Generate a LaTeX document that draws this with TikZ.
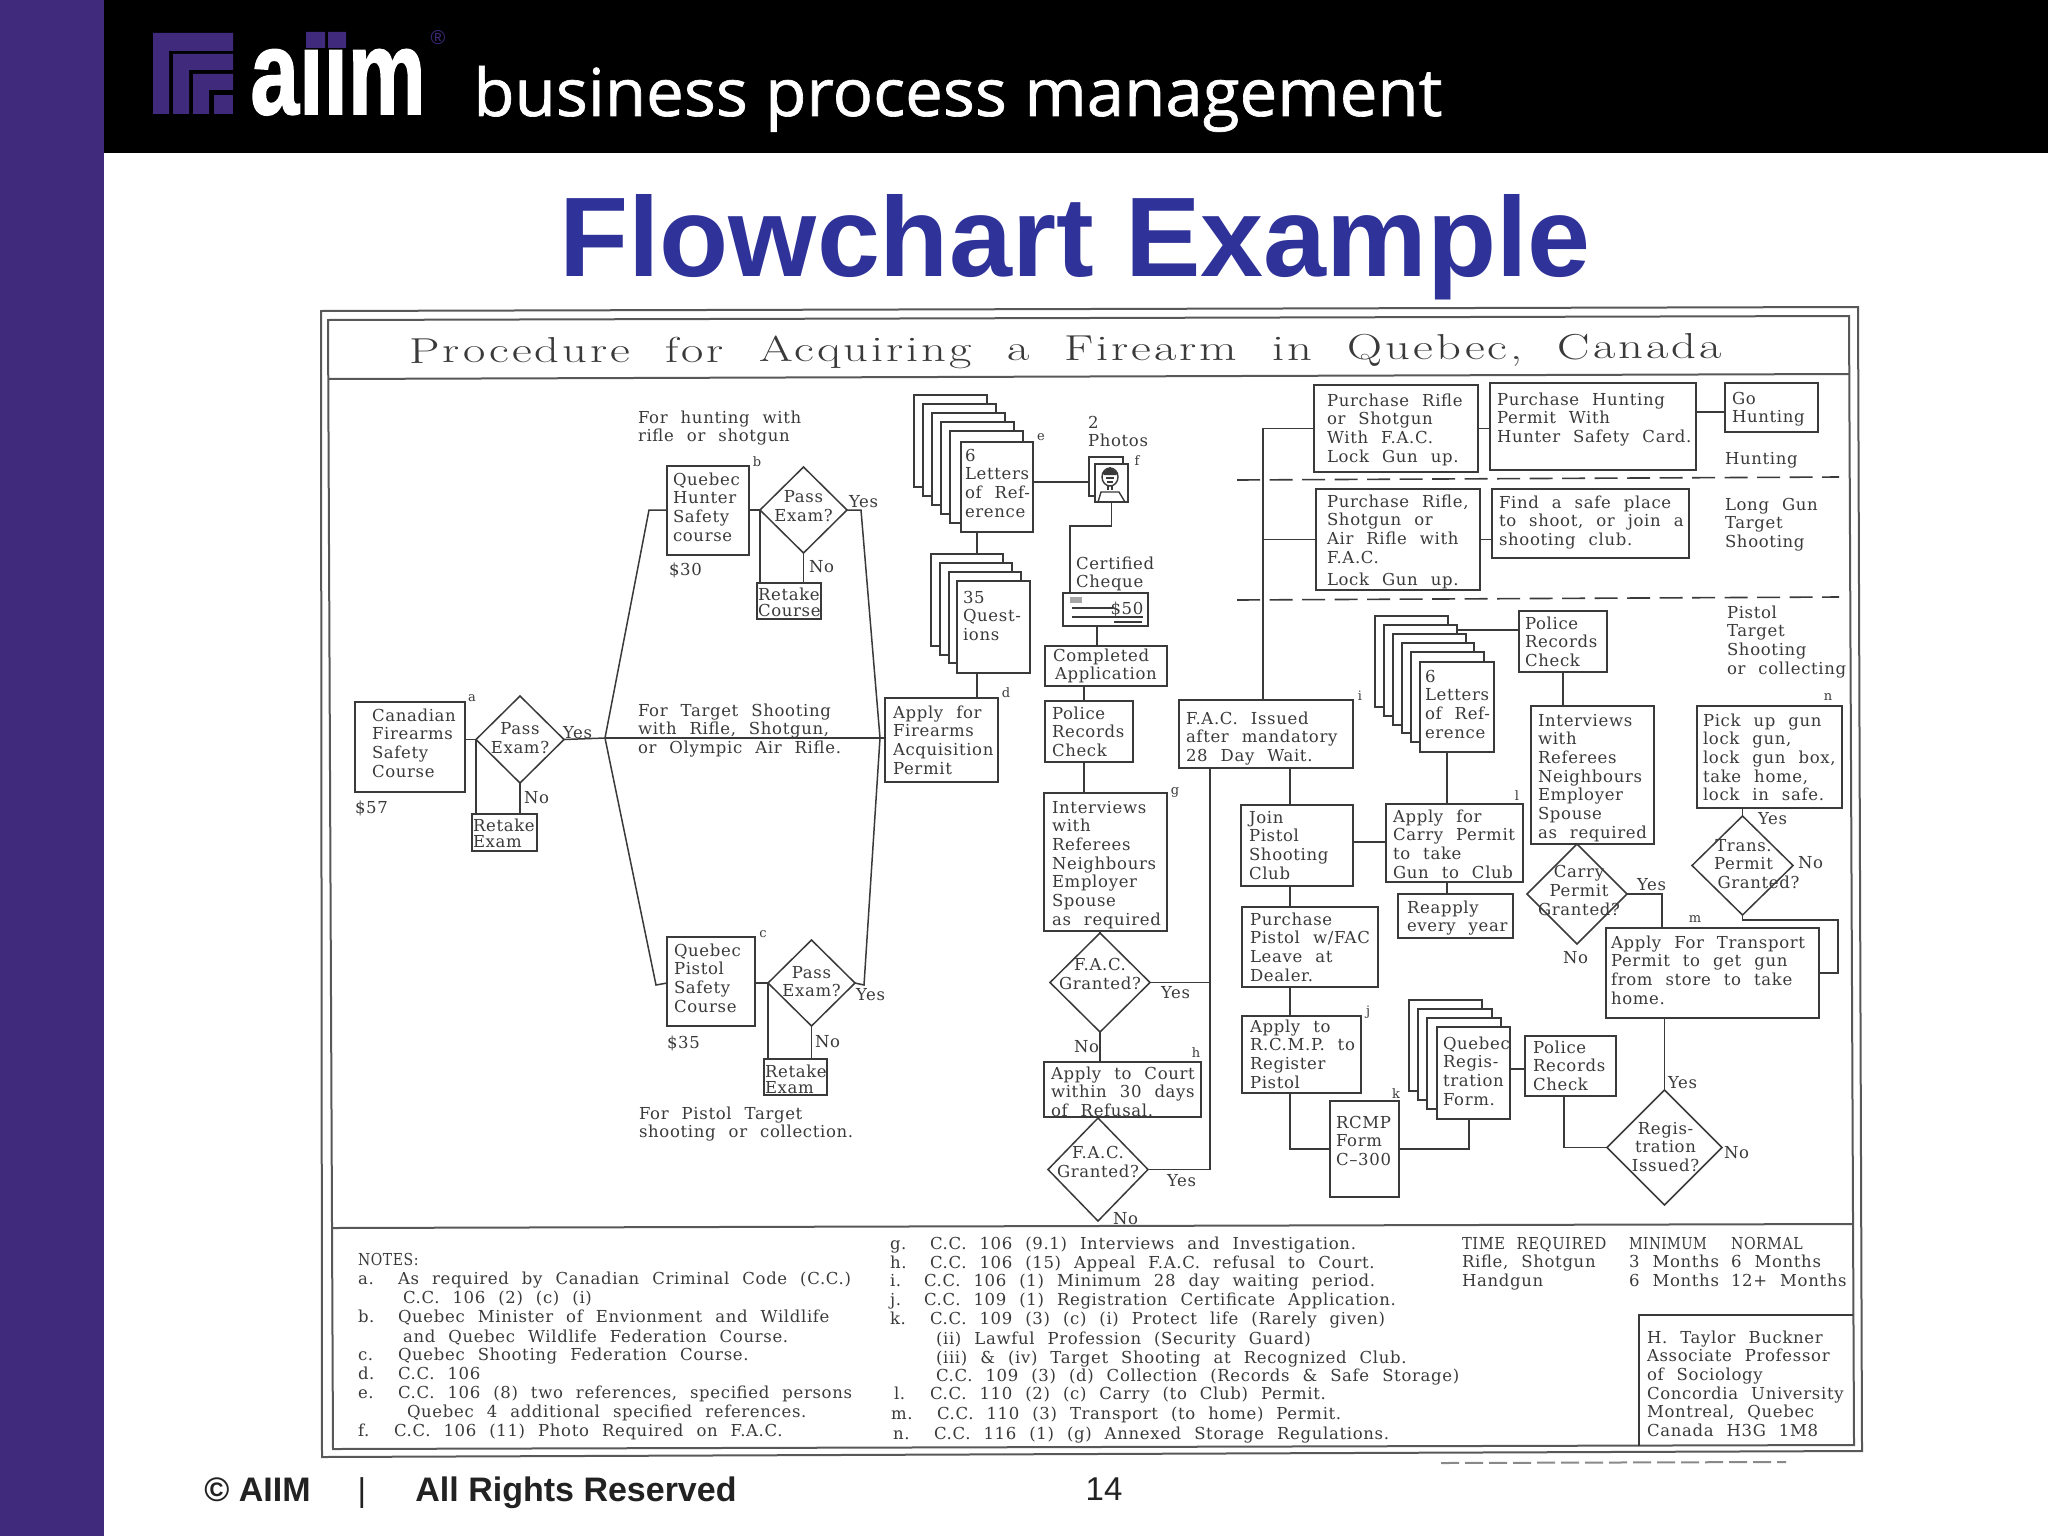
\documentclass[tikz,border=0pt]{standalone}
\usepackage{fontspec}
\usepackage{graphicx}
\usetikzlibrary{shapes.geometric}
\setsansfont{Liberation Sans}
\newfontfamily\plotfam[LetterSpace=4,WordSpace=2.2]{DejaVu Serif}
\newfontfamily\hdfam[FakeBold=1]{Open Sans}
\newfontfamily\aifam[FakeBold=1.5]{Liberation Sans Bold}
\newfontfamily\ttlfam[LetterSpace=6,WordSpace=2]{Latin Modern Roman}
\newcommand\plotf{\plotfam\fontsize{8.25}{9.35}\selectfont}
\newcommand\tinyf{\plotfam\fontsize{6.5}{7}\selectfont}
\definecolor{ink}{HTML}{3A3A3A}
\definecolor{band}{HTML}{3F2A7C}
\definecolor{ttl}{HTML}{2F3399}
\definecolor{footc}{HTML}{222222}
\tikzset{
  boxs/.style={draw=ink,line width=.85pt,fill=white,inner sep=0pt,outer sep=0pt,text=ink,font=\plotf},
  dia/.style={diamond,aspect=1,draw=ink,line width=.75pt,inner sep=0pt,outer sep=0pt,text=ink,font=\plotf},
  txts/.style={anchor=base west,inner sep=0pt,outer sep=0pt,text=ink,font=\plotf},
  smalls/.style={anchor=center,inner sep=0pt,outer sep=0pt,text=ink,font=\tinyf},
  ln/.style={draw=ink,line width=.75pt},
  frm/.style={draw=ink!85,line width=1pt},
  dsh/.style={draw=ink,line width=.8pt,dash pattern=on 11.5pt off 4.75pt},
  footb/.style={anchor=base west,inner sep=0pt,text=footc,font=\sffamily\bfseries\fontsize{17}{20}\selectfont},
  footr/.style={anchor=base,inner sep=0pt,text=footc,font=\sffamily\fontsize{16.5}{20}\selectfont}
}
% name x1 y1 x2 y2 textx firstliney text
\newcommand\fbx[8]{%
  \pgfmathsetmacro\bxW{(#4-#2)*0.5}\pgfmathsetmacro\bxH{(#5-#3)*0.5}%
  \pgfmathsetmacro\bxM{(#6-#2)*0.5}\pgfmathsetmacro\bxT{(#7-#3)*0.5-3.5}%
  \node[boxs,minimum width=\bxW pt,minimum height=\bxH pt] (#1) at ({(#2+#4)/2},{(#3+#5)/2})
  {\parbox[c][\bxH pt][t]{\bxW pt}{\vspace*{\bxT pt}\noindent\hbox{\hspace*{\bxM pt}\begin{tabular}[t]{@{}l@{}}#8\end{tabular}}}};}
% sheet: name x1 y1 x2 y2
\newcommand\shh[5]{%
  \pgfmathsetmacro\bxW{(#4-#2)*0.5}\pgfmathsetmacro\bxH{(#5-#3)*0.5}%
  \node[boxs,minimum width=\bxW pt,minimum height=\bxH pt] (#1) at ({(#2+#4)/2},{(#3+#5)/2}) {};}
% diamond: name left top right bottom dx dy text
\newcommand\dmd[8]{%
  \pgfmathsetmacro\bxW{(#4-#2)*0.5}\pgfmathsetmacro\bxH{(#5-#3)*0.5}%
  \pgfmathsetmacro\bxX{(#6)*0.5}\pgfmathsetmacro\bxY{-2.3-(#7)*0.5}%
  \node[dia,minimum width=\bxW pt,minimum height=\bxH pt] (#1) at ({(#2+#4)/2},{(#3+#5)/2})
  {\hspace*{\bxX pt}\makebox[0pt][c]{\raisebox{\bxY pt}[0pt][0pt]{\begin{tabular}[c]{@{}c@{}}#8\end{tabular}}}};}
% plain text: name x firstlinecentre text
\newcommand\ptx[4]{\node[txts] (#1) at (#2,{#3+6}) {\begin{tabular}[t]{@{}l@{}}#4\end{tabular}};}
\newcommand\lbl[4]{\node[smalls] (#1) at (#2,#3) {#4};}
\begin{document}
\begin{tikzpicture}[x=0.5pt,y=-0.5pt]
\useasboundingbox (0,0) rectangle (2048,1536);
\fill[white] (0,0) rectangle (2048,1536);
% slide furniture
\fill[band] (0,0) rectangle (104,1536);
\fill[black] (104,0) rectangle (2048,153);
% logo
\fill[band] (153,33) rectangle (233,51) (153,33) rectangle (169,114);
\fill[band] (173,54) rectangle (233,70) (173,54) rectangle (189,114);
\fill[band] (193,74) rectangle (233,90) (193,74) rectangle (209,114);
\fill[band] (214,95) rectangle (233,114);
\node[anchor=base west,inner sep=0pt,text=white,font=\aifam\fontsize{60}{60}\selectfont] (aiim) at (250,114) {\scalebox{0.73}[1]{aıım}};
\fill[band] (306,32) rectangle (325,48) (328,32) rectangle (346,48);
\node[anchor=center,inner sep=0pt,text=band,font=\sffamily\fontsize{10}{10}\selectfont] (regm) at (438,38) {®};
\node[anchor=base west,inner sep=0pt,text=white,font=\hdfam\fontsize{33}{33}\selectfont] (bpm) at (473,116) {\resizebox{484.5pt}{\height}{business process management}};
\node[anchor=center,inner sep=0pt,text=ttl,font=\sffamily\bfseries\fontsize{56.6}{60}\selectfont] (ftitle) at (1075,247) {Flowchart Example};
\node[footb] (foot1) at (204,1501) {© AIIM};
\node[footr] (foot2) at (362,1501) {|};
\node[footb] (foot3) at (415,1501) {All Rights Reserved};
\node[footr] (foot4) at (1104,1500) {14};
% frames
\draw[frm] (321,311) -- (1858,307) -- (1862,1451) -- (322,1457) -- cycle;
\draw[frm] (328,320) -- (1849,316) -- (1854,1445) -- (333,1449) -- cycle;
\draw[frm] (328,379) -- (1849,374);
\draw[frm] (332,1228) -- (1852,1224);
\draw[ink!60,line width=1pt,dash pattern=on 9pt off 3pt] (1441,1463) -- (1786,1462);
\node[anchor=west,inner sep=0pt,text=ink,rotate=0.2,font=\ttlfam\fontsize{18}{20}\selectfont] (ptitle) at (409,354) {\resizebox{656pt}{\height}{Procedure for Acquiring a Firearm in Quebec, Canada}};
% left part
\fbx{cfs}{355}{702}{465}{792}{372}{715}{Canadian\\Firearms\\Safety\\Course}
\lbl{la}{472}{698}{a}
\ptx{t57}{355}{807}{\$57}
\dmd{d1}{476}{696}{564}{783}{0}{0}{Pass\\Exam?}
\fbx{rx1}{472}{814}{537}{851}{473}{825}{Retake\\[-1pt]Exam}
\ptx{y1}{563}{732}{Yes}
\ptx{n1}{524}{797}{No}
\ptx{th}{638}{417}{For hunting with\\rifle or shotgun}
\ptx{tt}{638}{710}{For Target Shooting\\with Rifle, Shotgun,\\or Olympic Air Rifle.}
\ptx{tp}{639}{1113}{For Pistol Target\\shooting or collection.}
\fbx{qh}{667}{466}{749}{555}{673}{479}{Quebec\\Hunter\\Safety\\course}
\lbl{lb}{757}{462}{b}
\ptx{t30}{669}{569}{\$30}
\dmd{d2}{760}{467}{847}{553}{0}{-2}{Pass\\Exam?}
\fbx{rc}{757}{583}{821}{619}{758}{594}{Retake\\[-1pt]Course}
\ptx{y2}{849}{501}{Yes}
\ptx{n2}{809}{566}{No}
\fbx{qp}{667}{937}{755}{1026}{674}{950}{Quebec\\Pistol\\Safety\\Course}
\lbl{lc}{763}{934}{c}
\ptx{t35}{667}{1042}{\$35}
\dmd{d3}{768}{940}{855}{1026}{0}{0}{Pass\\Exam?}
\fbx{re}{764}{1059}{827}{1095}{765}{1071}{Retake\\[-1pt]Exam}
\ptx{y3}{856}{994}{Yes}
\ptx{n3}{815}{1041}{No}
\coordinate (j1) at (605,738);
\coordinate (j2) at (880,738);
% application column
\fbx{afa}{885}{698}{998}{782}{893}{712}{Apply for\\Firearms\\Acquisition\\Permit}
\lbl{ld}{1006}{693}{d}
\shh{ls1}{914}{395}{987}{487}\shh{ls2}{923}{404}{996}{496}\shh{ls3}{932}{413}{1005}{505}\shh{ls4}{941}{422}{1014}{514}\shh{ls5}{950}{431}{1023}{523}
\fbx{ls6}{961}{442}{1033}{532}{965}{455}{6\\Letters\\of Ref-\\erence}
\lbl{le}{1041}{437}{e}
\shh{qs1}{931}{554}{1003}{646}\shh{qs2}{940}{563}{1012}{655}\shh{qs3}{949}{572}{1021}{663}
\fbx{qs4}{957}{581}{1030}{673}{963}{597}{35\\Quest-\\ions}
\ptx{t2p}{1088}{422}{2\\Photos}
\shh{ph1}{1089}{457}{1123}{496}
\shh{ph2}{1095}{464}{1128}{502}
\lbl{lf}{1137}{461}{f}
\draw[ink,line width=.7pt] (1110,477) ellipse (8 and 9);
\fill[ink] (1102,473) -- (1110,467) -- (1118,473) -- (1116,475) -- (1104,475) -- cycle;
\draw[ink,line width=.6pt] (1106,478) -- (1114,478) (1107,482) -- (1113,482) (1108,486) -- (1108,490) (1112,486) -- (1112,490);
\draw[ink,line width=.7pt] (1098,502) -- (1101,492) -- (1119,492) -- (1125,502);
\ptx{tcc}{1076}{563}{Certified\\Cheque}
\shh{chq}{1063}{593}{1148}{626}
\fill[ink!45] (1070,597) rectangle (1082,603);
\draw[ink,line width=.6pt] (1072,608) -- (1113,608) (1072,617) -- (1143,617) (1114,622) -- (1142,622);
\lbl{c50}{1127}{609}{\plotf\$50}
\fbx{ca}{1045}{646}{1167}{686}{1053}{655}{Completed\\\hspace*{1pt}Application}
\fbx{pc}{1045}{701}{1133}{762}{1052}{713}{Police\\Records\\Check}
\fbx{iv}{1044}{793}{1167}{931}{1052}{807}{Interviews\\with\\Referees\\Neighbours\\Employer\\Spouse\\as required}
\lbl{lg}{1175}{792}{g}
\dmd{fd1}{1050}{933}{1150}{1032}{0}{-7}{F.A.C.\\Granted?}
\ptx{y4}{1161}{992}{Yes}
\ptx{n4}{1074}{1046}{No}
\fbx{ac}{1044}{1062}{1201}{1117}{1051}{1073}{Apply to Court\\within 30 days\\of Refusal.}
\lbl{lh}{1196}{1053}{h}
\dmd{fd2}{1048}{1118}{1148}{1221}{0}{-6}{F.A.C.\\Granted?}
\ptx{y5}{1167}{1180}{Yes}
\ptx{n5}{1113}{1218}{No}
% centre column
\fbx{fi}{1179}{700}{1353}{768}{1186}{718}{F.A.C. Issued\\after mandatory\\28 Day Wait.}
\lbl{li}{1360}{696}{i}
\fbx{js}{1241}{805}{1353}{886}{1249}{817}{Join\\Pistol\\Shooting\\Club}
\fbx{pp}{1242}{907}{1378}{987}{1250}{919}{Purchase\\Pistol w/FAC\\Leave at\\Dealer.}
\fbx{rg}{1242}{1016}{1361}{1093}{1250}{1026}{Apply to\\R.C.M.P. to\\Register\\Pistol}
\lbl{lj}{1368}{1012}{j}
\fbx{rf}{1330}{1101}{1399}{1197}{1336}{1122}{RCMP\\Form\\C–300}
\lbl{lk}{1396}{1094}{k}
% top right
\fbx{pr1}{1314}{385}{1478}{472}{1327}{400}{Purchase Rifle\\or Shotgun\\With F.A.C.\\Lock Gun up.}
\fbx{ph}{1490}{383}{1696}{470}{1497}{399}{Purchase Hunting\\Permit With\\Hunter Safety Card.}
\fbx{gh}{1725}{383}{1818}{432}{1732}{398}{Go\\Hunting}
\ptx{thu}{1725}{458}{Hunting}
\fbx{pr2}{1316}{489}{1480}{590}{1327}{501}{Purchase Rifle,\\Shotgun or\\Air Rifle with\\F.A.C.\\[1.6pt]Lock Gun up.}
\fbx{fs}{1492}{489}{1689}{558}{1499}{502}{Find a safe place\\to shoot, or join a\\shooting club.}
\ptx{tlg}{1725}{504}{Long Gun\\Target\\Shooting}
\ptx{tps}{1727}{612}{Pistol\\Target\\Shooting\\or collecting}
\draw[dsh] (1237,480) -- (1839,477);
\draw[dsh] (1237,600) -- (1839,597);
\shh{ms1}{1375}{616}{1448}{707}\shh{ms2}{1384}{625}{1457}{716}\shh{ms3}{1393}{634}{1466}{725}\shh{ms4}{1402}{643}{1474}{733}\shh{ms5}{1411}{652}{1484}{742}
\fbx{ms6}{1420}{662}{1494}{752}{1425}{676}{6\\Letters\\of Ref-\\erence}
\fbx{pl2}{1519}{611}{1607}{672}{1525}{623}{Police\\Records\\Check}
\fbx{iv2}{1531}{706}{1654}{844}{1538}{720}{Interviews\\with\\Referees\\Neighbours\\Employer\\Spouse\\as required}
\fbx{cp}{1386}{804}{1523}{882}{1393}{816}{Apply for\\Carry Permit\\to take\\Gun to Club}
\lbl{ll}{1517}{796}{l}
\fbx{ra}{1398}{894}{1513}{938}{1407}{907}{Reapply\\every year}
\dmd{cd}{1527}{844}{1627}{944}{4}{-2}{Carry\\Permit\\Granted?}
\ptx{y6}{1637}{884}{Yes}
\ptx{n6}{1563}{957}{No}
\fbx{pu}{1697}{706}{1842}{808}{1703}{720}{Pick up gun\\lock gun,\\lock gun box,\\take home,\\lock in safe.}
\lbl{ln}{1828}{697}{n}
\dmd{td}{1692}{816}{1793}{915}{2}{0}{Trans.\\Permit\\\hspace*{15pt}Granted?}
\ptx{y7}{1758}{818}{Yes}
\ptx{n7}{1798}{862}{No}
\fbx{at}{1606}{928}{1819}{1018}{1611}{942}{Apply For Transport\\Permit to get gun\\from store to take\\home.}
\lbl{lm}{1695}{919}{m}
\shh{qf1}{1409}{1000}{1482}{1091}\shh{qf2}{1418}{1009}{1492}{1100}\shh{qf3}{1427}{1018}{1501}{1109}
\fbx{qf4}{1437}{1027}{1510}{1119}{1443}{1043}{Quebec\\Regis-\\tration\\Form.}
\fbx{pl3}{1525}{1036}{1616}{1096}{1533}{1047}{Police\\Records\\Check}
\dmd{rd}{1607}{1090}{1722}{1205}{2}{1}{Regis-\\tration\\Issued?}
\ptx{y8}{1668}{1082}{Yes}
\ptx{n8}{1724}{1152}{No}
% connectors
\draw[ln] (cfs.east |- d1.west) -- (d1.west);
\draw[ln] (d1.west) -- (d1.west |- rx1.north);
\draw[ln] (d1.south) -- (d1.south |- rx1.north);
\draw[ln] (d1.east) -- (j1);
\draw[ln] (j1) -- (j2) -- (afa.west |- j2);
\draw[ln] (j1) -- (649,510) -- (qh.west |- d2.west);
\draw[ln] (qh.east |- d2.west) -- (d2.west);
\draw[ln] (d2.west) -- (d2.west |- rc.north);
\draw[ln] (d2.south) -- (d2.south |- rc.north);
\draw[ln] (d2.east) -- (861,510) -- (j2);
\draw[ln] (j1) -- (656,985) -- (qp.west |- d3.west);
\draw[ln] (qp.east |- d3.west) -- (d3.west);
\draw[ln] (d3.west) -- (d3.west |- re.north);
\draw[ln] (d3.south) -- (d3.south |- re.north);
\draw[ln] (d3.east) -- (864,985) -- (j2);
\draw[ln] (977,0 |- ls6.south) -- (977,0 |- qs1.north);
\draw[ln] (977,0 |- qs4.south) -- (977,0 |- afa.north);
\draw[ln] (ls6.east |- 0,482) -- (ph1.west |- 0,482);
\draw[ln] (ph2.south) |- (1070,526) -- (1070,0 |- chq.north);
\draw[ln] (1097,0 |- chq.south) -- (1097,0 |- ca.north);
\draw[ln] (1084,0 |- ca.south) -- (1084,0 |- pc.north);
\draw[ln] (1084,0 |- pc.south) -- (1084,0 |- iv.north);
\draw[ln] (fd1.north |- iv.south) -- (fd1.north);
\draw[ln] (fd1.south) -- (fd1.south |- ac.north);
\draw[ln] (fd2.north |- ac.south) -- (fd2.north);
\draw[ln] (fd1.east) -- (1210,0 |- fd1.east);
\draw[ln] (fd2.east) -| (1210,0 |- fi.south);
\draw[ln] (1263,0 |- fi.north) |- (pr1.west);
\draw[ln] (1263,0 |- pr2.west) -- (pr2.west);
\draw[ln] (pr1.east) -- (ph.west |- pr1.east);
\draw[ln] (ph.east |- 0,412) -- (gh.west |- 0,412);
\draw[ln] (pr2.east) -- (fs.west |- pr2.east);
\draw[ln] (1290,0 |- fi.south) -- (1290,0 |- js.north);
\draw[ln] (js.east |- 0,842) -- (cp.west |- 0,842);
\draw[ln] (1290,0 |- js.south) -- (1290,0 |- pp.north);
\draw[ln] (1290,0 |- pp.south) -- (1290,0 |- rg.north);
\draw[ln] (1290,0 |- rg.south) |- (rf.west);
\draw[ln] (rf.east) -| (1469,0 |- qf4.south);
\draw[ln] (qf4.east |- 0,1069) -- (pl3.west |- 0,1069);
\draw[ln] (1564,0 |- pl3.south) |- (rd.west);
\draw[ln] (rd.north) -- (rd.north |- at.south);
\draw[ln] (ms2.east |- 0,630) -- (pl2.west |- 0,630);
\draw[ln] (1563,0 |- pl2.south) -- (1563,0 |- iv2.north);
\draw[ln] (cd.north |- iv2.south) -- (cd.north);
\draw[ln] (cd.east) -| (1662,0 |- at.north);
\draw[ln] (1447,0 |- ms6.south) -- (1447,0 |- cp.north);
\draw[ln] (1447,0 |- cp.south) -- (1447,0 |- ra.north);
\draw[ln] (td.north |- pu.south) -- (td.north);
\draw[ln] (td.south) -- (td.south |- 0,920) -| (1838,973) -- (at.east |- 0,973);
% notes
\ptx{nh}{358}{1259}{\scalebox{.85}[1]{NOTES:}}
\ptx{na}{358}{1278}{a.}\ptx{nat}{398}{1278}{As required by Canadian Criminal Code (C.C.)}
\ptx{nat2}{403}{1297}{C.C. 106 (2) (c) (i)}
\ptx{nb}{358}{1316}{b.}\ptx{nbt}{398}{1316}{Quebec Minister of Envionment and Wildlife}
\ptx{nbt2}{403}{1336}{and Quebec Wildlife Federation Course.}
\ptx{nc}{358}{1354}{c.}\ptx{nct}{398}{1354}{Quebec Shooting Federation Course.}
\ptx{nd}{358}{1373}{d.}\ptx{ndt}{398}{1373}{C.C. 106}
\ptx{ne}{358}{1392}{e.}\ptx{net}{398}{1392}{C.C. 106 (8) two references, specified persons}
\ptx{net2}{407}{1411}{Quebec 4 additional specified references.}
\ptx{nf}{358}{1430}{f.}\ptx{nft}{394}{1430}{C.C. 106 (11) Photo Required on F.A.C.}
\ptx{ng}{890}{1243}{g.}\ptx{ngt}{930}{1243}{C.C. 106 (9.1) Interviews and Investigation.}
\ptx{nhh}{890}{1262}{h.}\ptx{nht}{930}{1262}{C.C. 106 (15) Appeal F.A.C. refusal to Court.}
\ptx{ni}{890}{1280}{i.}\ptx{nit}{924}{1280}{C.C. 106 (1) Minimum 28 day waiting period.}
\ptx{nj}{890}{1299}{j.}\ptx{njt}{924}{1299}{C.C. 109 (1) Registration Certificate Application.}
\ptx{nk}{890}{1318}{k.}\ptx{nkt}{930}{1318}{C.C. 109 (3) (c) (i) Protect life (Rarely given)}
\ptx{nk2}{936}{1338}{(ii) Lawful Profession (Security Guard)}
\ptx{nk3}{936}{1357}{(iii) \& (iv) Target Shooting at Recognized Club.}
\ptx{nk4}{936}{1375}{C.C. 109 (3) (d) Collection (Records \& Safe Storage)}
\ptx{nl}{894}{1393}{l.}\ptx{nlt}{930}{1393}{C.C. 110 (2) (c) Carry (to Club) Permit.}
\ptx{nm}{891}{1413}{m.}\ptx{nmt}{937}{1413}{C.C. 110 (3) Transport (to home) Permit.}
\ptx{nn}{893}{1433}{n.}\ptx{nnt}{934}{1433}{C.C. 116 (1) (g) Annexed Storage Regulations.}
\ptx{tr1}{1462}{1243}{\scalebox{.89}[1]{TIME REQUIRED}\\Rifle, Shotgun\\Handgun}
\ptx{tr2}{1629}{1243}{\scalebox{.81}[1]{MINIMUM}\\3 Months\\6 Months}
\ptx{tr3}{1731}{1243}{\scalebox{.86}[1]{NORMAL}\\6 Months\\12+ Months}
\coordinate (abl) at (1639,1446);
\coordinate (abr) at (1853,1315);
\draw[ln] (abl) |- (abr);
\ptx{au}{1647}{1337}{H. Taylor Buckner\\Associate Professor\\of Sociology\\Concordia University\\Montreal, Quebec\\Canada H3G 1M8}
\end{tikzpicture}
\end{document}
